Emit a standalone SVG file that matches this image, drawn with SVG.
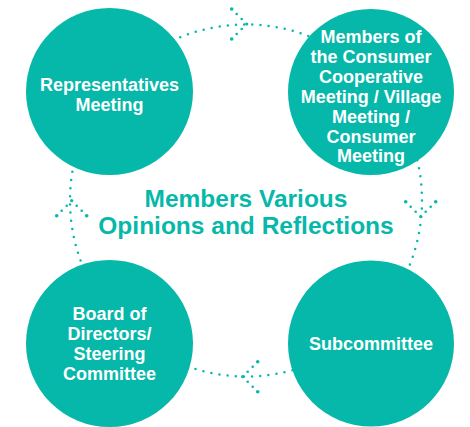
<svg xmlns="http://www.w3.org/2000/svg" width="470" height="427" viewBox="0 0 470 427">
<style>
.node{fill:#06B8A9}
.lbl{font-family:"Liberation Sans",Arial,sans-serif;font-weight:bold;font-size:18px;fill:#ffffff;text-anchor:middle}
.title{font-family:"Liberation Sans",Arial,sans-serif;font-weight:bold;font-size:24.5px;fill:#06B8A9;text-anchor:middle}
.dots{fill:none;stroke:#06B8A9;stroke-width:2.5;stroke-linecap:round;stroke-dasharray:0 8.19}
.d{fill:#06B8A9}
</style>
<defs>
<g id="chev">
<circle class="d" cx="0" cy="0" r="1.6"/>
<circle class="d" cx="-5" cy="-5" r="1.3"/>
<circle class="d" cx="-10" cy="-10" r="1.3"/>
<circle class="d" cx="-15" cy="-15" r="1.8"/>
<circle class="d" cx="-5" cy="5" r="1.3"/>
<circle class="d" cx="-10" cy="10" r="1.3"/>
<circle class="d" cx="-15" cy="15" r="1.8"/>
</g>
</defs>
<g id="connectors">
<circle class="dots" cx="246" cy="200.5" r="176"/>
<use href="#chev" transform="translate(246.7,24)"/>
<use href="#chev" transform="translate(420.7,216.7) rotate(90)"/>
<use href="#chev" transform="translate(242.7,376.7) rotate(180)"/>
<use href="#chev" transform="translate(71.7,200.7) rotate(-90)"/>
</g>
<g id="title">
<text class="title" x="246" y="206.5">Members Various</text>
<text class="title" x="246" y="234">Opinions and Reflections</text>
</g>
<g id="representatives">
<circle class="node" cx="109.5" cy="91.5" r="83.5"/>
<text class="lbl" x="109.5" y="91">Representatives</text>
<text class="lbl" x="109.5" y="111">Meeting</text>
</g>
<g id="members">
<circle class="node" cx="371" cy="92" r="83"/>
<text class="lbl" x="371" y="42.5">Members of</text>
<text class="lbl" x="371" y="62.5">the Consumer</text>
<text class="lbl" x="371" y="82.5">Cooperative</text>
<text class="lbl" x="371" y="102.5">Meeting / Village</text>
<text class="lbl" x="371" y="122.5">Meeting /</text>
<text class="lbl" x="371" y="142.5">Consumer</text>
<text class="lbl" x="371" y="162">Meeting</text>
</g>
<g id="subcommittee">
<circle class="node" cx="371" cy="343.5" r="83"/>
<text class="lbl" x="371" y="350">Subcommittee</text>
</g>
<g id="board">
<circle class="node" cx="109.5" cy="343.5" r="83.5"/>
<text class="lbl" x="109.5" y="320">Board of</text>
<text class="lbl" x="109.5" y="340">Directors/</text>
<text class="lbl" x="109.5" y="360">Steering</text>
<text class="lbl" x="109.5" y="380">Committee</text>
</g>
</svg>
